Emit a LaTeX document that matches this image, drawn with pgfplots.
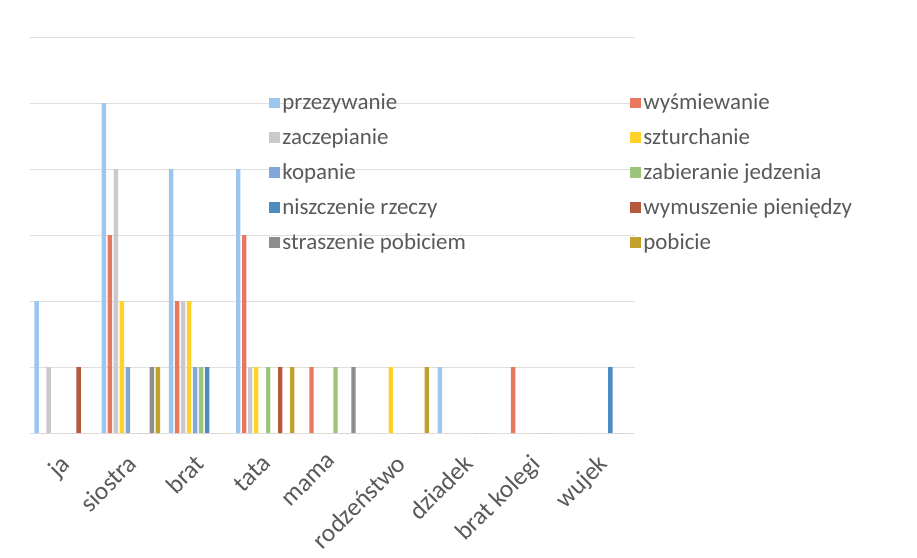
\documentclass[border=0pt]{standalone}
\usepackage{pgfplots}
\pgfplotsset{compat=1.18}
\usepackage{pgfplotstable}
\usepackage{fontspec}
\setmainfont{Carlito}

\definecolor{cPrz}{HTML}{9DC6EE}
\definecolor{cWys}{HTML}{E8775E}
\definecolor{cZac}{HTML}{C9C9CE}
\definecolor{cSzt}{HTML}{FFD22A}
\definecolor{cKop}{HTML}{7FA7DA}
\definecolor{cZab}{HTML}{9CC47C}
\definecolor{cNis}{HTML}{4E8DC2}
\definecolor{cWym}{HTML}{B4583E}
\definecolor{cStr}{HTML}{8E8E8E}
\definecolor{cPob}{HTML}{C2A22C}
\definecolor{txt}{HTML}{595959}

% x: 0 ja, 1 siostra, 2 brat, 3 tata, 4 mama, 5 rodzenstwo, 6 dziadek, 7 brat kolegi, 8 wujek
\pgfplotstableread{
x prz wys zac szt kop zab nis wym str pob
0 2 0 1 0 0 0 0 1 0 0
1 5 3 4 2 1 0 0 0 1 1
2 4 2 2 2 1 1 1 0 0 0
3 4 3 1 1 0 1 0 1 0 1
4 0 1 0 0 0 1 0 0 1 0
5 0 0 0 1 0 0 0 0 0 1
6 1 0 0 0 0 0 0 0 0 0
7 0 1 0 0 0 0 0 0 0 0
8 0 0 0 0 0 0 1 0 0 0
}\dane

\begin{document}
\begin{tikzpicture}
\begin{axis}[
  scale only axis,
  width=453.75pt, height=297pt,
  font=\fontsize{17.2}{20}\selectfont,
  ybar=1.2pt, bar width=3.3pt,
  xmin=-0.5, xmax=8.5,
  ymin=0, ymax=6,
  xtick={0,...,8},
  xticklabels={ja,siostra,brat,tata,mama,rodzeństwo,dziadek,brat kolegi,wujek},
  xticklabel style={rotate=45, anchor=north east, inner sep=1pt, text=txt,
    font=\fontsize{19}{22}\selectfont, xshift=-12pt, yshift=-7pt},
  ytick={0,...,6}, yticklabels={},
  ymajorgrids, grid style={gray!25, line width=0.6pt},
  major tick length=0pt,
  axis line style={draw=none},
  legend columns=2,
  legend cell align=left,
  legend image code/.code={\fill[#1] (0pt,-4pt) rectangle (8pt,4pt);},
  legend style={at={(0.388,0.87)}, anchor=north west, draw=none, fill=none,
    text=txt, row sep=8.75pt,
    /tikz/every even column/.append style={column sep=121pt}},
  every axis plot/.append style={draw=none},
]
\addplot[fill=cPrz] table[x=x,y=prz]{\dane};
\addlegendentry{przezywanie}
\addplot[fill=cWys] table[x=x,y=wys]{\dane};
\addlegendentry{wyśmiewanie}
\addplot[fill=cZac] table[x=x,y=zac]{\dane};
\addlegendentry{zaczepianie}
\addplot[fill=cSzt] table[x=x,y=szt]{\dane};
\addlegendentry{szturchanie}
\addplot[fill=cKop] table[x=x,y=kop]{\dane};
\addlegendentry{kopanie}
\addplot[fill=cZab] table[x=x,y=zab]{\dane};
\addlegendentry{zabieranie jedzenia}
\addplot[fill=cNis] table[x=x,y=nis]{\dane};
\addlegendentry{niszczenie rzeczy}
\addplot[fill=cWym] table[x=x,y=wym]{\dane};
\addlegendentry{wymuszenie pieniędzy}
\addplot[fill=cStr] table[x=x,y=str]{\dane};
\addlegendentry{straszenie pobiciem}
\addplot[fill=cPob] table[x=x,y=pob]{\dane};
\addlegendentry{pobicie}
\end{axis}
\pgfresetboundingbox
\path (current axis.south west) ++(-22.5pt,-93pt) rectangle ([shift={(211.5pt,27.75pt)}]current axis.north east);
\end{tikzpicture}
\end{document}
